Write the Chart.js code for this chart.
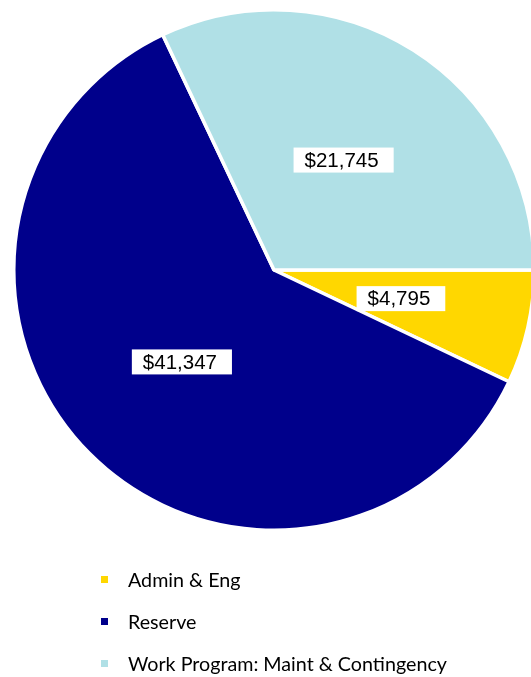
<!DOCTYPE html>
<html>
<head>
<meta charset="utf-8">
<script src="https://cdn.jsdelivr.net/npm/chart.js@4"></script>
<style>
    html, body { margin: 0; padding: 0; background: #fff; overflow: hidden; width: 531px; height: 677px; }
    #pie_box { position: absolute; left: 0; top: 0; width: 548px; height: 540px; }
    #legend { position: absolute; left: 0; top: 0; width: 531px; height: 677px; pointer-events: none; }
    .legend_item { position: absolute; left: 101px; height: 24px; display: flex; align-items: center; font-family: Lato, sans-serif; font-size: 19.7px; color: #000; white-space: nowrap; }
    .legend_box { width: 7px; height: 7px; margin-right: 20px; }
</style>
</head>
<body>
<div id="pie_box"><canvas id="pie"></canvas></div>
<div id="legend"></div>
<script>
// values
const labels = ['Admin & Eng', 'Reserve', 'Work Program: Maint & Contingency'];
const values = [4795, 41347, 21745];
const colors = ['#FFD700', '#00008B', '#B0E0E6'];

// white boxed value labels in the middle of each slice
const valueLabels = {
    id: 'valueLabels',
    afterDatasetsDraw(chart) {
        let ctx = chart.ctx;
        let meta = chart.getDatasetMeta(0);
        ctx.save();
        ctx.font = '20.5px "Liberation Sans", Arial, sans-serif';
        ctx.textBaseline = 'middle';
        meta.data.forEach(function(arc, i) {
            let p = arc.getCenterPoint();
            let txt = '$' + values[i].toLocaleString('en-US');
            let w = ctx.measureText(txt).width + 26;
            let h = 25;
            ctx.fillStyle = '#fff';
            ctx.fillRect(p.x - w / 2, p.y - h / 2, w, h);
            ctx.fillStyle = '#000';
            ctx.fillText(txt, p.x - w / 2 + 11, p.y + 1);
        });
        ctx.restore();
    }
};

window.onload = function() {
    let ctx = document.getElementById('pie').getContext('2d');
    new Chart(ctx, {
        type: 'pie',
        data: {
            labels: labels,
            datasets: [{
                data: values,
                backgroundColor: colors,
                borderColor: '#fff',
                borderWidth: 3.5
            }]
        },
        options: {
            responsive: true,
            maintainAspectRatio: false,
            animation: false,
            rotation: 90,
            layout: { padding: { top: 8, bottom: 8, left: 0, right: 0 } },
            plugins: {
                legend: { display: false },
                tooltip: { enabled: false }
            }
        },
        plugins: [valueLabels]
    });

    // legend rows under the pie
    let legend = document.getElementById('legend');
    for (let i = 0; i < labels.length; i++) {
        let item = document.createElement('div');
        item.classList.add('legend_item');
        item.style.top = (567 + i * 42) + 'px';
        let box = document.createElement('div');
        box.classList.add('legend_box');
        box.style.background = colors[i];
        item.appendChild(box);
        let span = document.createElement('span');
        span.innerText = labels[i];
        item.appendChild(span);
        legend.appendChild(item);
    }
}
</script>
</body>
</html>
